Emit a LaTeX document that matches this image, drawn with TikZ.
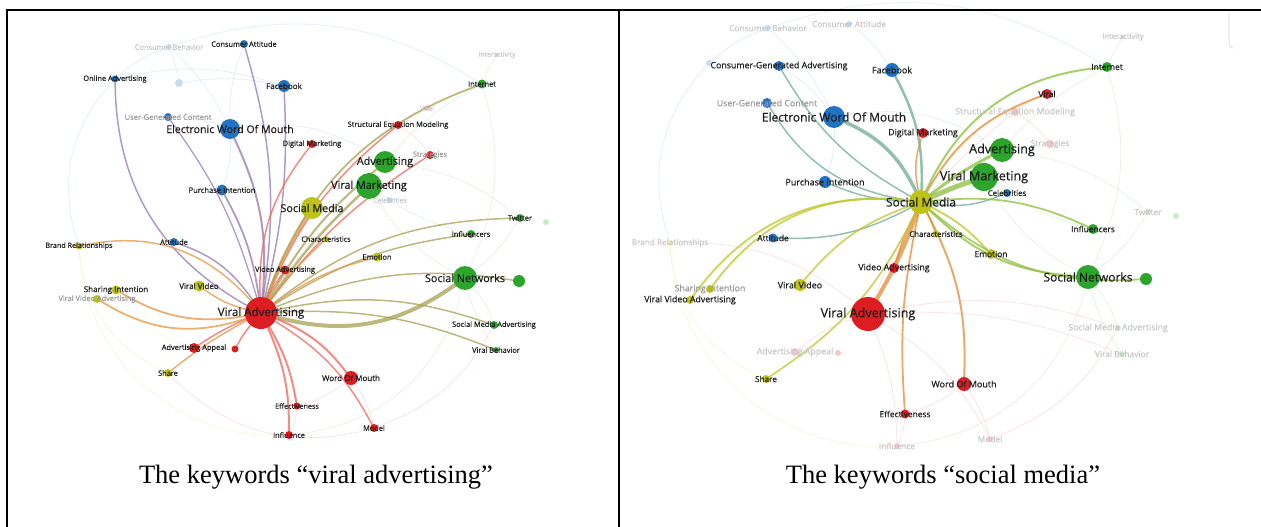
\documentclass[tikz,border=0pt]{standalone}
\usepackage{fontspec}
\setmainfont{Liberation Serif}
\newfontfamily\kwfont{Open Sans}[FakeBold=0.5]
\usetikzlibrary{backgrounds}
\definecolor{cR}{RGB}{220,30,35}
\definecolor{cG}{RGB}{45,165,45}
\definecolor{cB}{RGB}{35,115,195}
\definecolor{cY}{RGB}{190,195,25}
\definecolor{eRB}{RGB}{150,120,175}
\definecolor{eRG}{RGB}{165,160,85}
\definecolor{eRY}{RGB}{225,150,70}
\definecolor{eRR}{RGB}{238,100,90}
\definecolor{eYB}{RGB}{110,170,150}
\definecolor{eYG}{RGB}{140,190,60}
\definecolor{eYR}{RGB}{225,140,55}
\definecolor{eYY}{RGB}{190,200,50}
\definecolor{lblc}{RGB}{30,30,30}
\tikzset{
  dot/.style={circle, inner sep=0pt, draw=none},
  lbltxt/.style={inner sep=0pt, text=lblc},
  glbl/.style={inner sep=0pt, text=black!40},
  flbl/.style={inner sep=0pt, text=black!22},
  edge/.style={opacity=0.75, line cap=round},
  faint/.style={opacity=0.12, line width=0.8pt},
  rule/.style={line width=1.8pt}
}
% solid node, dark label
\newcommand{\kwn}[7]{%
  \node[dot, fill=#5, minimum size={2*#4pt}] (#1) at (#2,-#3) {};
  \node[lbltxt, font={\kwfont\fontsize{#7}{#7}\selectfont}] (#1-t) at (#2,-#3) {#6};}
% solid node, grey label
\newcommand{\kwg}[7]{%
  \node[dot, fill=#5, minimum size={2*#4pt}] (#1) at (#2,-#3) {};
  \node[glbl, font={\kwfont\fontsize{#7}{#7}\selectfont}] (#1-t) at (#2,-#3) {#6};}
% faded node, faded label
\newcommand{\kwx}[7]{%
  \node[dot, fill=#5, fill opacity=0.25, minimum size={2*#4pt}] (#1) at (#2,-#3) {};
  \node[flbl, font={\kwfont\fontsize{#7}{#7}\selectfont}] (#1-t) at (#2,-#3) {#6};}
\newcommand{\ed}[5]{\draw[edge, draw=#3, line width=#4pt] (#1) to[#5] (#2);}
\newcommand{\fe}[4]{\draw[faint, draw=#3] (#1) to[#4] (#2);}
\begin{document}
\begin{tikzpicture}[x=1pt,y=1pt]
\useasboundingbox (0,0) rectangle (1261,-527);
% ---------------- left panel ----------------
\kwx{a-cb}{169}{47}{3}{cB}{Consumer Behavior}{7.4}
\kwn{a-ca}{244}{44}{4}{cB}{Consumer Attitude}{7.4}
\kwn{a-oa}{115}{79}{3.5}{cB}{Online Advertising}{7.4}
\kwx{a-x1}{179}{83}{4}{cB}{}{6.5}
\kwn{a-fb}{284}{86}{6}{cB}{Facebook}{8}
\kwg{a-ugc}{168}{117}{4}{cB}{User-Generated Content}{7.6}
\kwn{a-ewom}{230}{129}{10}{cB}{Electronic Word Of Mouth}{10.6}
\kwn{a-dm}{312}{144}{4}{cR}{Digital Marketing}{7.4}
\kwn{a-sem}{398}{125}{4}{cR}{Structural Equation Modeling}{7.4}
\kwn{a-int}{482}{84}{4.5}{cG}{Internet}{7.4}
\kwx{a-ia}{497}{55}{2}{cG}{Interactivity}{6.8}
\kwx{a-vir}{427}{108}{3}{cR}{Viral}{6.8}
\kwg{a-str}{430}{155}{4}{cR}{Strategies}{7.4}
\kwn{a-adv}{385}{162}{11}{cG}{Advertising}{10.8}
\kwn{a-vm}{369}{186}{13}{cG}{Viral Marketing}{10.8}
\kwn{a-sm}{312}{208}{11}{cY}{Social Media}{10.8}
\kwx{a-cel}{390}{200}{3}{cB}{Celebrities}{6.8}
\kwn{a-pi}{222}{190}{5.5}{cB}{Purchase Intention}{7.6}
\kwn{a-tw}{520}{218}{4}{cG}{Twitter}{7.4}
\kwx{a-tw2}{546}{222}{3}{cG}{}{6}
\kwn{a-ch}{326}{239}{3}{cY}{Characteristics}{7.2}
\kwn{a-inf}{471}{234}{4}{cG}{Influencers}{7.4}
\kwn{a-em}{377}{257}{4.5}{cY}{Emotion}{7.4}
\kwn{a-br}{79}{246}{3.5}{cY}{Brand Relationships}{7.2}
\kwn{a-att}{174}{242}{4}{cB}{Attitude}{7.4}
\kwn{a-vad}{285}{270}{4.5}{cR}{Video Advertising}{7.4}
\kwn{a-vv}{199}{286}{5.5}{cY}{Viral Video}{8}
\kwn{a-si}{116}{290}{4.5}{cY}{Sharing Intention}{8}
\kwg{a-vva}{97}{299}{4}{cY}{Viral Video Advertising}{7.4}
\kwn{a-sn}{465}{278}{12}{cG}{Social Networks}{10.8}
\kwn{a-sn2}{519}{281}{6}{cG}{}{6}
\kwn{a-va}{261}{313}{16}{cR}{Viral Advertising}{11.5}
\kwn{a-sma}{494}{325}{4}{cG}{Social Media Advertising}{7.4}
\kwn{a-vb}{496}{350}{3}{cG}{Viral Behavior}{7.4}
\kwn{a-aa}{194}{348}{5}{cR}{Advertising Appeal}{7.4}
\kwn{a-aa2}{235}{349}{3.5}{cR}{}{6}
\kwn{a-sh}{168}{373}{4}{cY}{Share}{7.4}
\kwn{a-wom}{351}{378}{7}{cR}{Word Of Mouth}{8}
\kwn{a-eff}{297}{406}{3.5}{cR}{Effectiveness}{7.2}
\kwn{a-infl}{289}{435}{4}{cR}{Influence}{7.4}
\kwn{a-mod}{374}{428}{4}{cR}{Model}{7.4}
\begin{scope}[on background layer]
\fe{a-cb}{a-ewom}{cB}{bend left=10}
\fe{a-cb}{a-oa}{cB}{bend right=10}
\fe{a-cb}{a-x1}{cB}{bend left=5}
\fe{a-x1}{a-fb}{cB}{bend left=10}
\fe{a-oa}{a-fb}{cB}{bend left=15}
\fe{a-ugc}{a-ewom}{cB}{bend left=10}
\fe{a-ca}{a-ewom}{cB}{bend right=10}
\fe{a-ewom}{a-pi}{cB}{bend left=10}
\fe{a-ewom}{a-adv}{cB}{bend left=20}
\fe{a-adv}{a-int}{cG}{bend left=10}
\fe{a-adv}{a-tw}{cG}{bend left=15}
\fe{a-vm}{a-sn}{cG}{bend right=15}
\fe{a-vm}{a-inf}{cG}{bend right=10}
\fe{a-sn}{a-tw}{cG}{bend right=10}
\fe{a-sn}{a-sma}{cG}{bend left=10}
\fe{a-sn}{a-vb}{cG}{bend right=10}
\fe{a-int}{a-ia}{cG}{bend left=5}
\fe{a-int}{a-sn}{cG}{bend left=20}
\fe{a-sem}{a-vir}{cR}{bend left=10}
\fe{a-sem}{a-str}{cR}{bend left=10}
\fe{a-wom}{a-mod}{cR}{bend left=10}
\fe{a-wom}{a-eff}{cR}{bend left=10}
\fe{a-eff}{a-infl}{cR}{bend left=10}
\fe{a-infl}{a-sn}{cG}{bend right=35}
\fe{a-br}{a-sh}{cY}{bend right=30}
\fe{a-oa}{a-br}{cB}{bend right=30}
\fe{a-br}{a-infl}{cY}{bend right=45}
\fe{a-sh}{a-mod}{cR}{bend right=30}
\fe{a-si}{a-aa}{cY}{bend right=20}
\fe{a-mod}{a-sma}{cR}{bend right=20}
\fe{a-cb}{a-int}{cB}{bend left=25}
\ed{a-va}{a-oa}{eRB}{1.5}{bend left=30}
\ed{a-va}{a-ca}{eRB}{1.5}{bend right=12}
\ed{a-va}{a-fb}{eRB}{1.5}{bend right=8}
\ed{a-va}{a-ewom}{eRB}{2}{bend right=15}
\ed{a-va}{a-ugc}{eRB}{1.3}{bend right=10}
\ed{a-va}{a-pi}{eRB}{1.8}{bend right=10}
\ed{a-va}{a-att}{eRB}{1.5}{bend right=18}
\ed{a-va}{a-dm}{eRR}{1.5}{bend left=20}
\ed{a-va}{a-sem}{eRR}{1.5}{bend left=14}
\ed{a-va}{a-str}{eRR}{1.5}{bend left=10}
\ed{a-va}{a-adv}{eRG}{2}{bend left=10}
\ed{a-va}{a-vm}{eRG}{2.5}{bend left=6}
\ed{a-va}{a-sm}{eRY}{3}{bend left=5}
\ed{a-va}{a-int}{eRG}{1.8}{bend left=25}
\ed{a-va}{a-tw}{eRG}{1.5}{bend left=18}
\ed{a-va}{a-inf}{eRG}{1.5}{bend left=12}
\ed{a-va}{a-em}{eRY}{1.5}{bend left=10}
\ed{a-va}{a-ch}{eRY}{1.5}{bend left=5}
\ed{a-va}{a-sn}{eRG}{4}{bend right=25}
\ed{a-va}{a-sn2}{eRG}{1.5}{bend left=15}
\ed{a-va}{a-sma}{eRG}{1.5}{bend left=15}
\ed{a-va}{a-vb}{eRG}{1.5}{bend left=12}
\ed{a-va}{a-wom}{eRR}{2}{bend left=15}
\ed{a-va}{a-mod}{eRR}{1.5}{bend left=15}
\ed{a-va}{a-eff}{eRR}{2}{bend left=10}
\ed{a-va}{a-infl}{eRR}{2}{bend left=12}
\ed{a-va}{a-sh}{eRY}{1.5}{bend right=5}
\ed{a-va}{a-aa}{eRR}{1.5}{bend right=5}
\ed{a-va}{a-aa2}{eRR}{1.5}{bend right=5}
\ed{a-va}{a-si}{eRY}{1.8}{bend left=20}
\ed{a-va}{a-vva}{eRY}{1.8}{bend left=25}
\ed{a-va}{a-br}{eRY}{1.5}{bend right=30}
\ed{a-va}{a-vv}{eRY}{1.5}{bend left=10}
\ed{a-va}{a-vad}{eRR}{1.5}{bend left=5}
\end{scope}
% ---------------- right panel ----------------
\kwx{b-cb}{768}{28}{3}{cB}{Consumer Behavior}{8.4}
\kwx{b-ca}{849}{24}{3}{cB}{Consumer Attitude}{8.4}
\kwx{b-x1}{709}{63}{3}{cB}{}{6}
\kwn{b-cga}{779}{66}{5}{cB}{Consumer-Generated Advertising}{8.8}
\kwn{b-fb}{892}{70}{7}{cB}{Facebook}{9}
\kwg{b-ugc}{767}{103}{5}{cB}{User-Generated Content}{8.8}
\kwn{b-ewom}{834}{117}{11}{cB}{Electronic Word Of Mouth}{12}
\kwn{b-dm}{923}{133}{5}{cR}{Digital Marketing}{8.8}
\kwn{b-vir}{1047}{94}{5}{cR}{Viral}{8.4}
\kwn{b-int}{1107}{67}{5}{cG}{Internet}{8.4}
\kwx{b-ia}{1123}{37}{2}{cG}{Interactivity}{7.6}
\kwx{b-sem}{1015}{112}{4}{cR}{Structural Equation Modeling}{8.8}
\kwx{b-str}{1050}{144}{4}{cR}{Strategies}{8.4}
\kwn{b-adv}{1002}{150}{12}{cG}{Advertising}{12.6}
\kwn{b-vm}{984}{177}{14}{cG}{Viral Marketing}{12.6}
\kwn{b-sm}{921}{202}{12}{cY}{Social Media}{12}
\kwn{b-cel}{1007}{193}{4}{cB}{Celebrities}{7.8}
\kwn{b-pi}{825}{182}{6}{cB}{Purchase Intention}{9}
\kwx{b-tw}{1148}{212}{3}{cG}{Twitter}{8.4}
\kwx{b-tw2}{1176}{216}{3}{cG}{}{6}
\kwn{b-ch}{936}{234}{3.5}{cY}{Characteristics}{7.8}
\kwn{b-inf}{1093}{229}{5}{cG}{Influencers}{8.4}
\kwn{b-em}{991}{254}{5}{cY}{Emotion}{8.4}
\kwx{b-br}{670}{243}{3}{cY}{Brand Relationships}{8.2}
\kwn{b-att}{773}{238}{4.5}{cB}{Attitude}{8.4}
\kwn{b-vad}{894}{268}{5}{cR}{Video Advertising}{8.8}
\kwn{b-vv}{800}{285}{6}{cY}{Viral Video}{9}
\kwg{b-si}{710}{289}{4}{cY}{Sharing Intention}{8.8}
\kwn{b-vva}{690}{300}{4}{cY}{Viral Video Advertising}{8.8}
\kwn{b-sn}{1088}{277}{12}{cG}{Social Networks}{12}
\kwn{b-sn2}{1146}{279}{6}{cG}{}{6}
\kwn{b-va}{868}{314}{17}{cR}{Viral Advertising}{12.6}
\kwx{b-aa}{795}{352}{4}{cR}{Advertising Appeal}{8.8}
\kwx{b-aa2}{838}{353}{3}{cR}{}{6}
\kwx{b-sma}{1118}{328}{3}{cG}{Social Media Advertising}{8.8}
\kwx{b-vb}{1122}{354}{3}{cG}{Viral Behavior}{8.4}
\kwn{b-sh}{766}{379}{4}{cY}{Share}{8.2}
\kwn{b-wom}{964}{384}{7}{cR}{Word Of Mouth}{9}
\kwn{b-eff}{905}{414}{4.5}{cR}{Effectiveness}{8.4}
\kwx{b-infl}{897}{446}{3}{cR}{Influence}{8.4}
\kwx{b-mod}{990}{439}{3}{cR}{Model}{8.4}
\begin{scope}[on background layer]
\fe{b-cb}{b-ewom}{cB}{bend left=10}
\fe{b-cb}{b-x1}{cB}{bend right=10}
\fe{b-ca}{b-fb}{cB}{bend left=10}
\fe{b-cga}{b-ewom}{cB}{bend left=10}
\fe{b-ewom}{b-pi}{cB}{bend left=10}
\fe{b-ewom}{b-adv}{cB}{bend left=20}
\fe{b-adv}{b-int}{cG}{bend left=10}
\fe{b-adv}{b-tw}{cG}{bend left=15}
\fe{b-vm}{b-sn}{cG}{bend right=15}
\fe{b-vm}{b-inf}{cG}{bend right=10}
\fe{b-sn}{b-tw}{cG}{bend right=10}
\fe{b-sn}{b-sma}{cG}{bend left=10}
\fe{b-sn}{b-vb}{cG}{bend right=10}
\fe{b-int}{b-ia}{cG}{bend left=5}
\fe{b-int}{b-sn}{cG}{bend left=20}
\fe{b-sem}{b-vir}{cR}{bend left=10}
\fe{b-sem}{b-str}{cR}{bend left=10}
\fe{b-sem}{b-va}{cR}{bend right=15}
\fe{b-va}{b-mod}{cR}{bend left=15}
\fe{b-va}{b-infl}{cR}{bend left=10}
\fe{b-va}{b-aa}{cR}{bend right=10}
\fe{b-va}{b-sma}{cR}{bend left=15}
\fe{b-va}{b-vb}{cR}{bend left=12}
\fe{b-va}{b-br}{cR}{bend right=20}
\fe{b-wom}{b-mod}{cR}{bend left=10}
\fe{b-wom}{b-eff}{cR}{bend left=10}
\fe{b-eff}{b-infl}{cR}{bend left=10}
\fe{b-infl}{b-sn}{cG}{bend right=35}
\fe{b-br}{b-sh}{cY}{bend right=30}
\fe{b-x1}{b-br}{cB}{bend right=30}
\fe{b-br}{b-infl}{cY}{bend right=45}
\fe{b-mod}{b-sma}{cR}{bend right=20}
\fe{b-cb}{b-int}{cB}{bend left=25}
\ed{b-sm}{b-cga}{eYB}{1.5}{bend left=15}
\ed{b-sm}{b-ugc}{eYB}{1.5}{bend left=25}
\ed{b-sm}{b-ewom}{eYB}{3.5}{bend right=20}
\ed{b-sm}{b-fb}{eYB}{2.5}{bend right=15}
\ed{b-sm}{b-dm}{eYR}{1.5}{bend left=15}
\ed{b-sm}{b-pi}{eYB}{1.5}{bend left=10}
\ed{b-sm}{b-int}{eYG}{2}{bend left=30}
\ed{b-sm}{b-vir}{eYR}{2}{bend left=20}
\ed{b-sm}{b-adv}{eYG}{3}{bend left=5}
\ed{b-sm}{b-vm}{eYG}{5}{bend left=3}
\ed{b-sm}{b-cel}{eYB}{1.5}{bend right=15}
\ed{b-sm}{b-inf}{eYG}{1.8}{bend left=15}
\ed{b-sm}{b-em}{eYY}{2}{bend left=10}
\ed{b-sm}{b-sn}{eYG}{2}{bend right=20}
\ed{b-sm}{b-sn2}{eYG}{1.8}{bend right=22}
\ed{b-sm}{b-ch}{eYY}{2}{bend left=5}
\ed{b-sm}{b-vad}{eYR}{2}{bend right=5}
\ed{b-sm}{b-va}{eYR}{4}{bend left=5}
\ed{b-sm}{b-eff}{eYR}{1.8}{bend right=8}
\ed{b-sm}{b-wom}{eYR}{2}{bend left=15}
\ed{b-sm}{b-att}{eYB}{1.5}{bend left=15}
\ed{b-sm}{b-vv}{eYY}{1.8}{bend right=15}
\ed{b-sm}{b-sh}{eYY}{1.8}{bend left=15}
\ed{b-sm}{b-si}{eYY}{2}{bend right=30}
\ed{b-sm}{b-vva}{eYY}{2}{bend right=30}
\end{scope}
% scrollbar trace
\draw[black!12, line width=1pt] (1229,-13) -- (1229,-44) arc[start angle=180, end angle=270, radius=4];
% ---------------- table rules and captions ----------------
\draw[line width=2pt] (6,-10) -- (1261,-10);
\draw[rule] (7,-9) -- (7,-527);
\draw[line width=1.2pt] (619,-10) -- (619,-527);
\node[font=\fontsize{26.5}{30}\selectfont] (cap1) at (316,-477) {The keywords “viral advertising”};
\node[font=\fontsize{26.5}{30}\selectfont] (cap2) at (943,-477) {The keywords “social media”};
\end{tikzpicture}
\end{document}
